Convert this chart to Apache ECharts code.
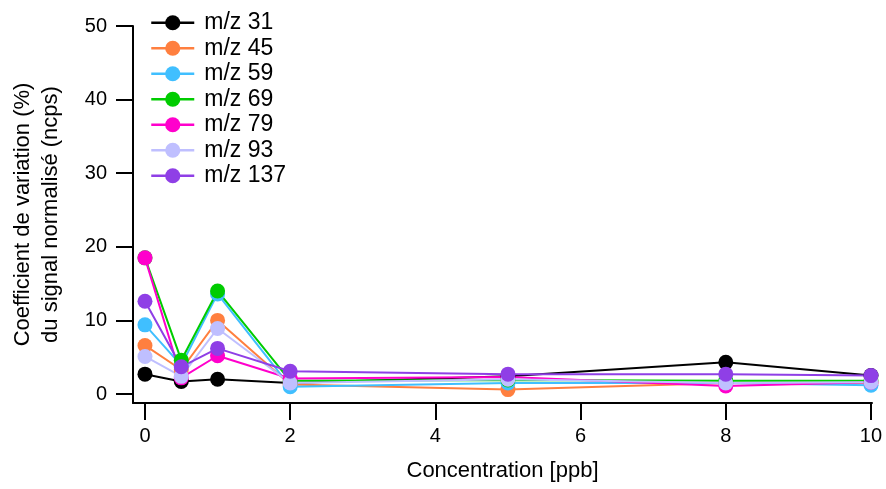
<!DOCTYPE html>
<html>
<head>
<meta charset="utf-8">
<script src="https://cdn.jsdelivr.net/npm/echarts@6/dist/echarts.min.js"></script>
<style>
html,body{margin:0;padding:0;background:#fff;}
#c{width:886px;height:489px;}
</style>
</head>
<body>
<div id="c"></div>
<script>
const concentrations = [0, 0.5, 1, 2, 5, 8, 10];
const seriesNames = ['m/z 31', 'm/z 45', 'm/z 59', 'm/z 69', 'm/z 79', 'm/z 93', 'm/z 137'];
const mz31  = [2.7, 1.7, 2.0, 1.5, 2.4, 4.3, 2.5];
const mz45  = [6.6, 3.3, 10.0, 1.3, 0.6, 1.5, 1.5];
const mz59  = [9.4, 3.9, 13.6, 1.0, 1.5, 1.5, 1.2];
const mz69  = [18.5, 4.6, 14.0, 1.8, 1.9, 1.8, 1.8];
const mz79  = [18.5, 2.2, 5.2, 2.1, 2.3, 1.1, 1.6];
const mz93  = [5.1, 2.4, 8.9, 1.5, 2.0, 1.5, 1.6];
const mz137 = [12.6, 3.7, 6.2, 3.1, 2.7, 2.7, 2.5];
const xTicks = [0, 2, 4, 6, 8, 10];
const yTicks = [0, 10, 20, 30, 40, 50];
const colors = ['#000000', '#FF7F3F', '#40BFFF', '#00CC00', '#FF00CC', '#BFBFFF', '#8F3FE6'];

const allValues = [mz31, mz45, mz59, mz69, mz79, mz93, mz137];
const font = 'Liberation Sans, Arial, sans-serif';

const chart = echarts.init(document.getElementById('c'));
chart.setOption({
  animation: false,
  backgroundColor: '#ffffff',
  color: colors,
  textStyle: { fontFamily: font },
  grid: { left: 133, right: 14, top: 26, bottom: 86, containLabel: false, outerBoundsMode: 'none' },
  legend: {
    orient: 'vertical',
    left: 150,
    top: 10,
    padding: 0,
    itemWidth: 43,
    itemHeight: 19,
    itemGap: 0,
    data: seriesNames,
    lineStyle: { width: 2.5 },
    textStyle: { fontFamily: font, fontSize: 23, lineHeight: 25.5, color: '#000', padding: [0, 0, 0, 5] }
  },
  xAxis: {
    type: 'value',
    min: -0.165,
    max: 10.014,
    name: 'Concentration [ppb]',
    nameLocation: 'middle',
    nameGap: 57,
    nameTextStyle: { fontFamily: font, fontSize: 22, color: '#000' },
    axisLine: { show: true, onZero: false, lineStyle: { color: '#000', width: 2 } },
    axisTick: { show: true, length: 17, inside: false, lineStyle: { color: '#000', width: 2 }, customValues: xTicks },
    axisLabel: { fontFamily: font, fontSize: 20, color: '#000', margin: 23, customValues: xTicks },
    splitLine: { show: false }
  },
  yAxis: {
    type: 'value',
    min: -1.22,
    max: 50,
    name: 'Coefficient de variation (%)\ndu signal normalisé (ncps)',
    nameLocation: 'middle',
    nameGap: 68,
    nameTextStyle: { fontFamily: font, fontSize: 22, color: '#000', lineHeight: 28 },
    axisLine: { show: true, onZero: false, lineStyle: { color: '#000', width: 2 } },
    axisTick: { show: true, length: 17, inside: false, lineStyle: { color: '#000', width: 2 }, customValues: yTicks },
    axisLabel: { fontFamily: font, fontSize: 20, color: '#000', margin: 26, customValues: yTicks },
    splitLine: { show: false }
  },
  series: seriesNames.map((name, i) => ({
    name: name,
    type: 'line',
    clip: false,
    symbol: 'circle',
    symbolSize: 15,
    lineStyle: { width: 2, color: colors[i] },
    itemStyle: { color: colors[i] },
    data: concentrations.map((c, j) => [c, allValues[i][j]])
  }))
});
</script>
</body>
</html>
